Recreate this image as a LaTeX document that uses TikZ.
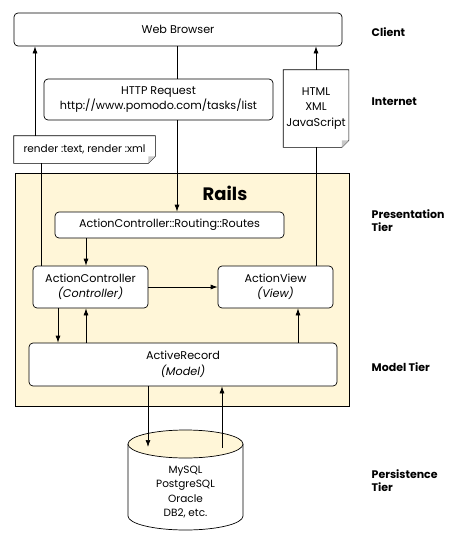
\documentclass[tikz,border=0pt]{standalone}
\usepackage{fontspec}
\setmainfont{Poppins}
\usepackage{tikz}
\usetikzlibrary{arrows.meta,calc,positioning,shapes}
\definecolor{railsbg}{RGB}{255,246,216}
\definecolor{foldgray}{RGB}{200,200,200}
\tikzset{%
	block/.style    = {draw, rectangle, rounded corners=4pt, fill=white, align=center, inner sep=0pt}, % Component
	paper/.style    = {rectangle, align=center, inner sep=0pt}, % Note, outline drawn by \foldnote
	frame/.style    = {draw, rectangle, fill=railsbg, inner sep=0pt},
	tier/.style     = {anchor=west, align=left, font=\bfseries\fontsize{11}{13}\selectfont},
}
% outline with a turned-down corner
\newcommand{\foldnote}[1]{%
	\draw (#1.north west) -- (#1.north east) -- ([yshift=7pt]#1.south east) -- ([xshift=-7pt]#1.south east) -- (#1.south west) -- cycle;
	\fill[foldgray] ([shift={(-7pt,7pt)}]#1.south east) -- ([yshift=7pt]#1.south east) -- ([xshift=-7pt]#1.south east) -- cycle;
}

\begin{document}
\begin{tikzpicture}[x=1pt,y=-1pt,>={Latex[length=7pt,width=5pt]},line width=0.7pt,font=\fontsize{11.2}{15.5}\selectfont]
	\useasboundingbox (0,0) rectangle (456,550);
	% Rails frame
	\node [frame, minimum width=334pt, minimum height=233pt] (RAILS) at (182,289.5) {};
	\node [font=\bfseries\fontsize{18}{20}\selectfont] (T) at (225,193) {Rails};
	% database
	\draw[fill=white] (128,444) -- (128,516) arc (180:0:57.5 and 14) -- (243,444);
	\draw[fill=railsbg] (185.5,444) ellipse (57.5 and 14);
	\node [align=center, font=\fontsize{10.5}{14.5}\selectfont] (DB) at (185.5,492) {MySQL\\PostgreSQL\\Oracle\\DB2, etc.};
	\coordinate (DBin) at (148,447);
	\coordinate (DBout) at (222,448);
	% blocks
	\node [block, minimum width=328pt, minimum height=33pt] (WB) at (178,29.5) {Web Browser};
	\node [block, minimum width=229pt, minimum height=41pt] (REQ) at (158.5,99.5) {HTTP Request\\http://www.pomodo.com/tasks/list};
	\node [paper, minimum width=65pt, minimum height=77pt] (DOC) at (316,108.5) {HTML\\XML\\JavaScript};
	\foldnote{DOC}
	\node [paper, minimum width=141pt, minimum height=27pt, font=\fontsize{10.5}{13}\selectfont] (RND) at (84.5,149.5) {render :text, render :xml};
	\foldnote{RND}
	\node [block, minimum width=229pt, minimum height=26pt] (RT) at (169.5,225) {ActionController::Routing::Routes};
	\node [block, minimum width=115pt, minimum height=42pt] (AC) at (90.5,287) {ActionController\\\textit{(Controller)}};
	\node [block, minimum width=115pt, minimum height=42pt] (AV) at (275.5,287) {ActionView\\\textit{(View)}};
	\node [block, minimum width=308pt, minimum height=43pt] (AR) at (183,364.5) {ActiveRecord\\\textit{(Model)}};
	% tiers
	\node [tier] (C) at (368,32) {Client};
	\node [tier] (I) at (368,102) {Internet};
	\node [tier] (P) at (368,221) {Presentation\\Tier};
	\node [tier] (M) at (368,367) {Model Tier};
	\node [tier] (PT) at (368,481) {Persistence\\Tier};
	% connectors
	\draw[->] ([xshift=-49.5pt]RND.north) -- ([xshift=-143pt]WB.south);
	\draw ([xshift=-49.5pt]AC.north) -- ([xshift=-43.5pt]RND.south);
	\draw ([xshift=-1pt]WB.south) -- ([xshift=18.5pt]REQ.north);
	\draw[->] ([xshift=18.5pt]REQ.south) -- ([xshift=7.5pt]RT.north);
	\draw[->] ([xshift=-83.5pt]RT.south) -- ([xshift=-4.5pt]AC.north);
	\draw[->] (AC) -- (AV);
	\draw[->] ([xshift=-32.5pt]AC.south) -- ([xshift=-125pt]AR.north);
	\draw[->] ([xshift=-97pt]AR.north) -- ([xshift=-4.5pt]AC.south);
	\draw[->] ([xshift=115pt]AR.north) -- ([xshift=22.5pt]AV.south);
	\draw ([xshift=40.5pt]AV.north) -- (DOC.south);
	\draw[->] (DOC.north) -- ([xshift=138pt]WB.south);
	\draw[->] ([xshift=-35pt]AR.south) -- (DBin);
	\draw[->] (DBout) -- ([xshift=39pt]AR.south);
\end{tikzpicture}
\end{document}
